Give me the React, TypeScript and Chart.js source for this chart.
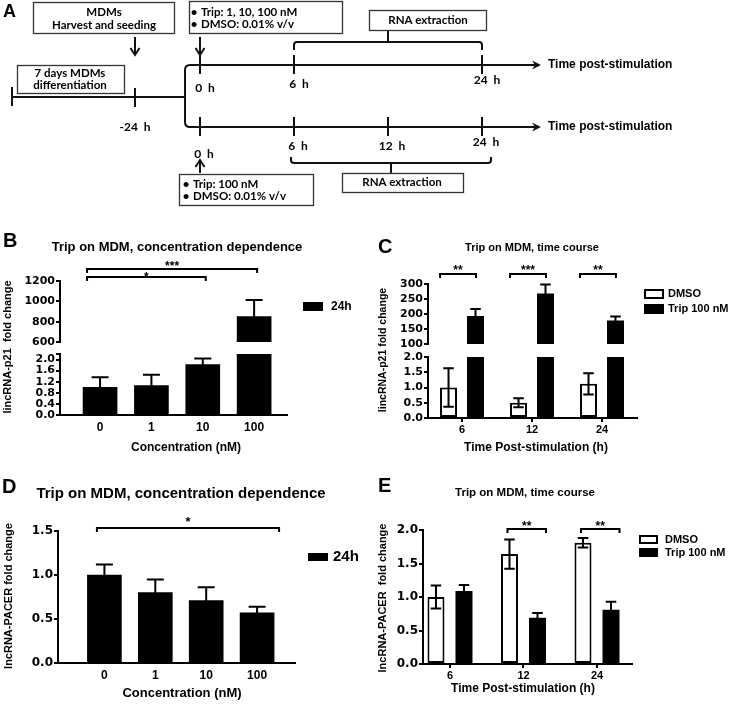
import React, { useEffect, useRef } from 'react';
import { Chart, registerables } from 'chart.js';

Chart.register(...registerables);

const ARIAL = '"Liberation Sans", Arial, Helvetica, sans-serif';
const WIDE = '"DejaVu Sans", "Liberation Sans", sans-serif';
const LATO = 'Lato, "Liberation Sans", sans-serif';

// ---------------- data ----------------
const CONC_LABELS = ['0', '1', '10', '100'];
const TIME_LABELS = ['6', '12', '24'];

// B: lincRNA-p21, concentration dependence (24 h)
const B_P21_24H = [1.0, 1.06, 1.82, 850];
const B_P21_24H_SEM = [0.36, 0.39, 0.22, 163];
const B_TICKS_HIGH = [600, 800, 1000, 1200];
const B_TICKS_LOW = [0, 0.4, 0.8, 1.2, 1.6, 2.0];

// C: lincRNA-p21, time course
const C_P21_DMSO = [1.0, 0.5, 1.12];
const C_P21_DMSO_SEM = [0.63, 0.15, 0.35];
const C_P21_TRIP = [193, 268, 178];
const C_P21_TRIP_SEM = [24, 30, 14];
const C_TICKS_HIGH = [100, 150, 200, 250, 300];
const C_TICKS_LOW = [0, 0.5, 1.0, 1.5, 2.0];

// D: lncRNA-PACER, concentration dependence (24 h)
const D_PACER_24H = [1.0, 0.8, 0.71, 0.57];
const D_PACER_24H_SEM = [0.12, 0.15, 0.15, 0.07];
const D_TICKS = [0, 0.5, 1.0, 1.5];

// E: lncRNA-PACER, time course
const E_PACER_DMSO = [1.0, 1.64, 1.81];
const E_PACER_DMSO_SEM = [0.17, 0.22, 0.07];
const E_PACER_TRIP = [1.09, 0.69, 0.81];
const E_PACER_TRIP_SEM = [0.09, 0.07, 0.12];
const E_TICKS = [0, 0.5, 1.0, 1.5, 2.0];

// significance brackets: [category, series]
const B_SIG = [
  { from: [0, 0], to: [3, 0], text: '***' },
  { from: [0, 0], to: [2, 0], text: '*' },
];
const C_SIG = [
  { from: [0, 0], to: [0, 1], text: '**' },
  { from: [1, 0], to: [1, 1], text: '***' },
  { from: [2, 0], to: [2, 1], text: '**' },
];
const D_SIG = [{ from: [0, 0], to: [3, 0], text: '*' }];
const E_SIG = [
  { from: [1, 0], to: [1, 1], text: '**' },
  { from: [2, 0], to: [2, 1], text: '**' },
];

// panel A schematic
const TIMEPOINTS_H = [0, 6, 12, 24];
const ARM1_H = [0, 6, 24];
const ARM2_H = [0, 6, 12, 24];
const ARM1_TREATMENT = ['Trip: 1, 10, 100 nM', 'DMSO: 0.01% v/v'];
const ARM2_TREATMENT = ['Trip: 100 nM', 'DMSO: 0.01% v/v'];
const HARVEST_SPAN = [6, 24];

// ---------------- helpers ----------------
function fontStr(size: number, family = ARIAL) {
  return `bold ${size}px ${family}`;
}

function drawText(ctx: any, str: string, x: number, y: number, size: number, opts: any = {}) {
  ctx.save();
  ctx.font = fontStr(size, opts.family || ARIAL);
  ctx.fillStyle = '#000';
  ctx.textAlign = opts.align || 'center';
  ctx.textBaseline = opts.baseline || 'middle';
  if (opts.rotate) {
    ctx.translate(x, y);
    ctx.rotate(-Math.PI / 2);
    ctx.fillText(str, 0, 0);
  } else {
    ctx.fillText(str, x, y);
  }
  ctx.restore();
}

const pick = (v: any, i: number) => (Array.isArray(v) ? v[i] : v);

// ---------------- panel specs ----------------
const PANELS: any[] = [
  {
    key: 'B',
    canvas: { left: 0, top: 215, width: 365, height: 245 },
    area: { left: 60, top: 281, right: 287, bottom: 415 },
    categories: CONC_LABELS,
    xMin: -0.78,
    xMax: 3.64,
    segments: [
      { id: 'yHigh', min: 600, max: 1200, ticks: B_TICKS_HIGH, weight: 61, decimals: 0 },
      { id: 'gap', gap: true, weight: 12 },
      { id: 'yLow', min: 0, max: 2.2, ticks: B_TICKS_LOW, weight: 61, decimals: 1, breakTick: true },
    ],
    series: [{ label: '24h', values: B_P21_24H, sem: B_P21_24H_SEM, fill: '#000', outline: false }],
    barThickness: 34,
    capRatio: 0.5,
    xTickMarks: false,
    yTickSize: 11,
    xTickSize: 12,
    letter: { text: 'B', x: 3, y: 247, size: 20 },
    title: { text: 'Trip on MDM, concentration dependence', x: 177, y: 247, size: 13 },
    yTitle: { text: 'lincRNA-p21  fold change', x: 8, y: 347, size: 11 },
    xTitle: { text: 'Concentration (nM)', x: 186, y: 448, size: 12 },
    legend: { x: 303, y: 302, boxW: 20, boxH: 9, gap: 15, textDx: 28, size: 12 },
    sig: B_SIG,
    sigY: [269, 277],
    sigTextY: [263, 274],
    sigDx: [-13, 3],
    sigSize: 12,
  },
  {
    key: 'C',
    canvas: { left: 365, top: 215, width: 364, height: 245 },
    area: { left: 428, top: 284, right: 637, bottom: 418 },
    categories: TIME_LABELS,
    xMin: -0.486,
    xMax: 2.5,
    segments: [
      { id: 'yHigh', min: 100, max: 300, ticks: C_TICKS_HIGH, weight: 60, decimals: 0 },
      { id: 'gap', gap: true, weight: 13 },
      { id: 'yLow', min: 0, max: 2, ticks: C_TICKS_LOW, weight: 61, decimals: 1 },
    ],
    series: [
      { label: 'DMSO', values: C_P21_DMSO, sem: C_P21_DMSO_SEM, fill: '#fff', outline: true },
      { label: 'Trip 100 nM', values: C_P21_TRIP, sem: C_P21_TRIP_SEM, fill: '#000', outline: false },
    ],
    categoryPercentage: 0.771,
    barPercentage: 0.63,
    capRatio: 0.62,
    xTickMarks: true,
    yTickSize: 11,
    xTickSize: 11,
    letter: { text: 'C', x: 378, y: 253, size: 20 },
    title: { text: 'Trip on MDM, time course', x: 532, y: 248, size: 11 },
    yTitle: { text: 'lincRNA-p21 fold change', x: 383, y: 350, size: 10.5 },
    xTitle: { text: 'Time Post-stimulation (h)', x: 536, y: 448, size: 12 },
    legend: { x: 644, y: 289, boxW: 20, boxH: 10, gap: 15, textDx: 24, size: 11 },
    sig: C_SIG,
    sigY: 274,
    sigTextY: 267,
    sigDx: [-8.5, 0.5],
    sigSize: 12,
  },
  {
    key: 'D',
    canvas: { left: 0, top: 460, width: 365, height: 244 },
    area: { left: 58, top: 531, right: 295, bottom: 663 },
    categories: CONC_LABELS,
    xMin: -0.912,
    xMax: 3.745,
    segments: [{ id: 'y', min: 0, max: 1.5, ticks: D_TICKS, weight: 1, decimals: 1 }],
    series: [{ label: '24h', values: D_PACER_24H, sem: D_PACER_24H_SEM, fill: '#000', outline: false }],
    barThickness: 34,
    capRatio: 0.5,
    xTickMarks: false,
    yTickSize: 12,
    xTickSize: 12,
    letter: { text: 'D', x: 2, y: 493, size: 20 },
    title: { text: 'Trip on MDM, concentration dependence', x: 181, y: 494, size: 15 },
    yTitle: { text: 'lncRNA-PACER fold change', x: 9, y: 596, size: 11 },
    xTitle: { text: 'Concentration (nM)', x: 182, y: 693, size: 13 },
    legend: { x: 308, y: 553, boxW: 20, boxH: 8, gap: 15, textDx: 25, size: 15 },
    sig: D_SIG,
    sigY: 528,
    sigTextY: 519,
    sigDx: [-7.5, 22],
    sigSize: 13,
  },
  {
    key: 'E',
    canvas: { left: 365, top: 460, width: 364, height: 244 },
    area: { left: 423, top: 530, right: 632, bottom: 664 },
    categories: TIME_LABELS,
    xMin: -0.367,
    xMax: 2.476,
    segments: [{ id: 'y', min: 0, max: 2, ticks: E_TICKS, weight: 1, decimals: 1 }],
    series: [
      { label: 'DMSO', values: E_PACER_DMSO, sem: E_PACER_DMSO_SEM, fill: '#fff', outline: true },
      { label: 'Trip 100 nM', values: E_PACER_TRIP, sem: E_PACER_TRIP_SEM, fill: '#000', outline: false },
    ],
    categoryPercentage: 0.762,
    barPercentage: 0.607,
    capRatio: 0.62,
    xTickMarks: true,
    yTickSize: 12,
    xTickSize: 11,
    letter: { text: 'E', x: 378, y: 492, size: 20 },
    title: { text: 'Trip on MDM, time course', x: 525, y: 493, size: 11.5 },
    yTitle: { text: 'lncRNA-PACER  fold change', x: 383, y: 598, size: 11 },
    xTitle: { text: 'Time Post-stimulation (h)', x: 523, y: 689, size: 12 },
    legend: { x: 639, y: 535, boxW: 19, boxH: 9, gap: 13, textDx: 26, size: 11 },
    sig: E_SIG,
    sigY: 529,
    sigTextY: 523,
    sigDx: [-2, 8.5],
    sigSize: 12,
  },
];

const Y_W = 40;
const X_H = 24;

function panelPlugin(spec: any) {
  const cv = spec.canvas;
  const nSegs = spec.segments.filter((s: any) => !s.gap).length;
  return {
    id: 'panel' + spec.key,
    beforeDatasetDraw(chart: any, args: any) {
      const ys = chart.scales[args.meta.yAxisID];
      const a = chart.chartArea;
      const ctx = chart.ctx;
      ctx.save();
      ctx.beginPath();
      ctx.rect(a.left, ys.top, a.right - a.left, ys.bottom - ys.top);
      ctx.clip();
    },
    afterDatasetDraw(chart: any, args: any) {
      const ctx = chart.ctx;
      ctx.restore();
      const ds = chart.data.datasets[args.index];
      const ys = chart.scales[args.meta.yAxisID];
      const a = chart.chartArea;
      ctx.save();
      ctx.beginPath();
      ctx.rect(a.left, ys.top - 3, a.right - a.left, ys.bottom - ys.top + 6);
      ctx.clip();
      ctx.strokeStyle = '#000';
      ctx.lineWidth = 2;
      args.meta.data.forEach((bar: any, i: number) => {
        const m = ds.means[i];
        const e = ds.sem[i];
        const half = (bar.width * spec.capRatio) / 2;
        const yT = ys.getPixelForValue(m + e);
        const yB = ys.getPixelForValue(m - e);
        ctx.beginPath();
        ctx.moveTo(bar.x, yT);
        ctx.lineTo(bar.x, yB);
        ctx.moveTo(bar.x - half, yT);
        ctx.lineTo(bar.x + half, yT);
        ctx.moveTo(bar.x - half, yB);
        ctx.lineTo(bar.x + half, yB);
        ctx.stroke();
      });
      ctx.restore();
    },
    afterDraw(chart: any) {
      const ctx = chart.ctx;
      ctx.save();
      ctx.translate(-cv.left, -cv.top);
      const L = spec.letter;
      drawText(ctx, L.text, L.x, L.y, L.size, { align: 'left', baseline: 'alphabetic' });
      const T = spec.title;
      drawText(ctx, T.text, T.x, T.y, T.size);
      const YT = spec.yTitle;
      drawText(ctx, YT.text, YT.x, YT.y, YT.size, { rotate: true });
      const XT = spec.xTitle;
      drawText(ctx, XT.text, XT.x, XT.y, XT.size);

      // legend
      const G = spec.legend;
      spec.series.forEach((ser: any, i: number) => {
        const by = G.y + i * G.gap;
        ctx.fillStyle = ser.fill;
        ctx.fillRect(G.x, by, G.boxW, G.boxH);
        if (ser.outline) {
          ctx.strokeStyle = '#000';
          ctx.lineWidth = 2;
          ctx.strokeRect(G.x + 1, by + 1, G.boxW - 2, G.boxH - 2);
        }
        drawText(ctx, ser.label, G.x + G.textDx, by + G.boxH / 2, G.size, { align: 'left' });
      });

      // significance brackets
      const xOf = (ref: number[]) => {
        const meta = chart.getDatasetMeta(ref[1] * nSegs);
        return meta.data[ref[0]].x + cv.left;
      };
      ctx.strokeStyle = '#000';
      ctx.lineWidth = 2;
      spec.sig.forEach((s: any, i: number) => {
        const x1 = xOf(s.from) + spec.sigDx[0];
        const x2 = xOf(s.to) + spec.sigDx[1];
        const y = pick(spec.sigY, i);
        ctx.beginPath();
        ctx.moveTo(x1, y + 4);
        ctx.lineTo(x1, y);
        ctx.lineTo(x2, y);
        ctx.lineTo(x2, y + 4);
        ctx.stroke();
        ctx.font = fontStr(spec.sigSize);
        const m = ctx.measureText(s.text);
        const ty = pick(spec.sigTextY, i);
        const base = ty + (m.actualBoundingBoxAscent - m.actualBoundingBoxDescent) / 2;
        ctx.fillStyle = '#000';
        ctx.textAlign = 'center';
        ctx.textBaseline = 'alphabetic';
        ctx.fillText(s.text, (x1 + x2) / 2, base);
      });
      ctx.restore();
    },
  };
}

function buildPanelConfig(spec: any): any {
  const cv = spec.canvas;
  const ar = spec.area;
  const padding = {
    left: ar.left - cv.left - Y_W,
    top: ar.top - cv.top,
    right: cv.left + cv.width - ar.right,
    bottom: cv.top + cv.height - ar.bottom - X_H,
  };
  const scales: any = {
    x: {
      type: 'linear',
      min: spec.xMin,
      max: spec.xMax,
      offset: false,
      afterBuildTicks: (s: any) => {
        s.ticks = spec.categories.map((_: string, i: number) => ({ value: i }));
      },
      afterFit: (s: any) => {
        s.height = X_H;
      },
      ticks: {
        callback: (v: number) => spec.categories[v] ?? '',
        autoSkip: false,
        maxRotation: 0,
        minRotation: 0,
        padding: 1,
        color: '#000',
        font: { family: ARIAL, size: spec.xTickSize, weight: 'bold' },
      },
      grid: {
        display: true,
        offset: false,
        drawOnChartArea: false,
        drawTicks: true,
        tickLength: 4,
        lineWidth: 2,
        color: spec.xTickMarks ? '#000' : 'rgba(0,0,0,0)',
      },
      border: { display: true, color: '#000', width: 2 },
    },
  };
  // stacked axes: Chart.js places later-defined left boxes on top, so define bottom-most first
  const segsBottomUp = [...spec.segments].reverse();
  for (const seg of segsBottomUp) {
    const base: any = {
      type: 'linear',
      position: 'left',
      stack: 'ystack',
      stackWeight: seg.weight,
      afterFit: (s: any) => {
        s.width = Y_W;
      },
    };
    if (seg.gap) {
      scales[seg.id] = {
        ...base,
        min: 0,
        max: 1,
        ticks: { display: false },
        grid: { display: false, drawTicks: false },
        border: { display: false },
      };
    } else {
      const tickVals = seg.breakTick ? [...seg.ticks, seg.max] : seg.ticks;
      scales[seg.id] = {
        ...base,
        min: seg.min,
        max: seg.max,
        afterBuildTicks: (s: any) => {
          s.ticks = tickVals.map((v: number) => ({ value: v }));
        },
        ticks: {
          callback: (v: number) => (seg.breakTick && v === seg.max ? '' : Number(v).toFixed(seg.decimals)),
          autoSkip: false,
          padding: 1,
          color: '#000',
          font: { family: WIDE, size: spec.yTickSize, weight: 'bold' },
        },
        grid: { drawOnChartArea: false, drawTicks: true, tickLength: 4, lineWidth: 2, color: '#000' },
        border: { display: true, color: '#000', width: 2 },
      };
    }
  }
  const valueSegs = spec.segments.filter((s: any) => !s.gap);
  const datasets: any[] = [];
  spec.series.forEach((ser: any, si: number) => {
    valueSegs.forEach((seg: any) => {
      datasets.push({
        type: 'bar',
        label: ser.label,
        data: ser.values.map((y: number, i: number) => ({ x: i, y })),
        yAxisID: seg.id,
        stack: 'series' + si,
        backgroundColor: ser.fill,
        borderColor: '#000',
        borderWidth: ser.outline ? 2 : 0,
        borderSkipped: false,
        barThickness: spec.barThickness,
        categoryPercentage: spec.categoryPercentage ?? 0.8,
        barPercentage: spec.barPercentage ?? 0.9,
        means: ser.values,
        sem: ser.sem,
      });
    });
  });
  return {
    type: 'bar',
    data: { datasets },
    options: {
      responsive: false,
      animation: false,
      devicePixelRatio: 1,
      events: [],
      layout: { padding },
      scales,
      plugins: { legend: { display: false }, tooltip: { enabled: false }, title: { display: false } },
    },
    plugins: [panelPlugin(spec)],
  };
}

function PanelChart({ spec }: { spec: any }) {
  const ref = useRef<HTMLCanvasElement>(null);
  useEffect(() => {
    const chart = new Chart(ref.current as HTMLCanvasElement, buildPanelConfig(spec));
    return () => chart.destroy();
  }, [spec]);
  const c = spec.canvas;
  return (
    <canvas
      ref={ref}
      width={c.width}
      height={c.height}
      style={{ position: 'absolute', left: c.left, top: c.top, width: c.width, height: c.height }}
    />
  );
}

// ---------------- panel A (schematic) ----------------
const A_LAYOUT = {
  t0: 200,
  step: 94,
  arm1LabelY: [88, 84, 80],
  arm2LabelY: [154, 146, 146, 142],
};

function drawSchematic(chart: any) {
  const ctx = chart.ctx;
  const xs = chart.scales.x;
  const ys = chart.scales.y;
  const X = (v: number) => xs.getPixelForValue(v);
  const Y = (v: number) => ys.getPixelForValue(v);
  const tpx = (h: number) => X(A_LAYOUT.t0 + TIMEPOINTS_H.indexOf(h) * A_LAYOUT.step);
  const ink = '#111';
  ctx.save();
  ctx.strokeStyle = ink;
  ctx.fillStyle = ink;
  ctx.lineWidth = 2;
  const line = (x1: number, y1: number, x2: number, y2: number) => {
    ctx.beginPath();
    ctx.moveTo(x1, y1);
    ctx.lineTo(x2, y2);
    ctx.stroke();
  };
  const box = (x1: number, y1: number, x2: number, y2: number) => {
    ctx.save();
    ctx.lineWidth = 1.3;
    ctx.strokeStyle = '#333';
    ctx.strokeRect(X(x1) + 0.5, Y(y1) + 0.5, X(x2) - X(x1), Y(y2) - Y(y1));
    ctx.restore();
  };
  const arrowDown = (x: number, y1: number, y2: number) => {
    line(x, y1, x, y2);
    ctx.beginPath();
    ctx.moveTo(x - 4.5, y2 - 7);
    ctx.lineTo(x, y2);
    ctx.lineTo(x + 4.5, y2 - 7);
    ctx.stroke();
  };
  const arrowUp = (x: number, yTip: number, y2: number) => {
    line(x, yTip, x, y2);
    ctx.beginPath();
    ctx.moveTo(x - 4.5, yTip + 7);
    ctx.lineTo(x, yTip);
    ctx.lineTo(x + 4.5, yTip + 7);
    ctx.stroke();
  };

  const yMain = Y(97);
  const yTop = Y(65);
  const yBot = Y(127);
  const xStart = X(12);
  const xPre = X(135);
  const xFork = X(185);
  const xEnd = X(541);

  // differentiation line
  line(xStart, yMain, xFork, yMain);
  line(xStart, Y(87), xStart, Y(106));
  line(xPre, Y(88), xPre, Y(107));
  drawText(ctx, '-24  h', xPre, Y(127), 12, { family: LATO });

  // fork into two arms
  ctx.beginPath();
  ctx.moveTo(xEnd - 6, yTop);
  ctx.lineTo(xFork + 5, yTop);
  ctx.quadraticCurveTo(xFork, yTop, xFork, yTop + 5);
  ctx.lineTo(xFork, yBot - 5);
  ctx.quadraticCurveTo(xFork, yBot, xFork + 5, yBot);
  ctx.lineTo(xEnd - 6, yBot);
  ctx.stroke();
  for (const yy of [yTop, yBot]) {
    ctx.beginPath();
    ctx.moveTo(xEnd, yy);
    ctx.lineTo(xEnd - 9, yy - 4.5);
    ctx.lineTo(xEnd - 6, yy);
    ctx.lineTo(xEnd - 9, yy + 4.5);
    ctx.closePath();
    ctx.fill();
    drawText(ctx, 'Time post-stimulation', xEnd + 7, yy, 12, { align: 'left' });
  }

  // arm ticks and labels
  ARM1_H.forEach((h, i) => {
    const x = tpx(h);
    line(x, Y(55), x, Y(74));
    drawText(ctx, `${h}  h`, x + 5, Y(A_LAYOUT.arm1LabelY[i]), 12, { family: LATO });
  });
  ARM2_H.forEach((h, i) => {
    const x = tpx(h);
    line(x, Y(117), x, Y(136));
    drawText(ctx, `${h}  h`, x + 4, Y(A_LAYOUT.arm2LabelY[i]), 12, { family: LATO });
  });

  // harvest brackets
  const hx1 = tpx(HARVEST_SPAN[0]);
  const hx2 = tpx(HARVEST_SPAN[1]);
  ctx.beginPath();
  ctx.moveTo(hx1, Y(50));
  ctx.lineTo(hx1, Y(45));
  ctx.quadraticCurveTo(hx1, Y(42), hx1 + 3, Y(42));
  ctx.lineTo(hx2 - 3, Y(42));
  ctx.quadraticCurveTo(hx2, Y(42), hx2, Y(45));
  ctx.lineTo(hx2, Y(50));
  ctx.stroke();
  line((hx1 + hx2) / 2, Y(42), (hx1 + hx2) / 2, Y(30));

  const bx1 = hx1 - 3;
  const bx2 = hx2 + 9;
  ctx.beginPath();
  ctx.moveTo(bx1, Y(157));
  ctx.lineTo(bx1, Y(160));
  ctx.quadraticCurveTo(bx1, Y(163), bx1 + 3, Y(163));
  ctx.lineTo(bx2 - 3, Y(163));
  ctx.quadraticCurveTo(bx2, Y(163), bx2, Y(160));
  ctx.lineTo(bx2, Y(157));
  ctx.stroke();
  line((bx1 + bx2) / 2, Y(163), (bx1 + bx2) / 2, Y(173));

  // arrows
  arrowDown(xPre, Y(37), Y(55));
  arrowDown(tpx(0), Y(37), Y(55));
  arrowUp(tpx(0), Y(160), Y(173));

  // boxes
  const BF = 11.5;
  box(33, 2, 174, 33);
  drawText(ctx, 'MDMs', X(104), Y(12), BF, { family: LATO });
  drawText(ctx, 'Harvest and seeding', X(104), Y(25), BF, { family: LATO });

  box(189, 1, 342, 33);
  ARM1_TREATMENT.forEach((t, i) => {
    drawText(ctx, '•', X(194), Y(12 + i * 12), BF, { family: LATO });
    drawText(ctx, t, X(201), Y(12 + i * 12), BF, { family: LATO, align: 'left' });
  });

  box(17, 65, 124, 93);
  drawText(ctx, '7 days MDMs', X(70), Y(73), BF, { family: LATO });
  drawText(ctx, 'differentiation', X(70), Y(85), BF, { family: LATO });

  box(369, 10, 486, 30);
  drawText(ctx, 'RNA extraction', X(428), Y(20), BF, { family: LATO });

  box(342, 173, 463, 192);
  drawText(ctx, 'RNA extraction', X(402), Y(182.5), BF, { family: LATO });

  box(179, 174, 313, 205);
  ARM2_TREATMENT.forEach((t, i) => {
    drawText(ctx, '•', X(186), Y(184 + i * 12), BF, { family: LATO });
    drawText(ctx, t, X(193), Y(184 + i * 12), BF, { family: LATO, align: 'left' });
  });

  drawText(ctx, 'A', X(3), Y(17), 18, { align: 'left', baseline: 'alphabetic' });
  ctx.restore();
}

function SchematicChart() {
  const ref = useRef<HTMLCanvasElement>(null);
  useEffect(() => {
    const chart = new Chart(ref.current as HTMLCanvasElement, {
      type: 'scatter',
      data: { datasets: [] },
      options: {
        responsive: false,
        animation: false,
        devicePixelRatio: 1,
        events: [],
        layout: { padding: 0 },
        scales: {
          x: { type: 'linear', display: false, min: 0, max: 729 },
          y: { type: 'linear', display: false, min: 0, max: 215, reverse: true },
        },
        plugins: { legend: { display: false }, tooltip: { enabled: false } },
      },
      plugins: [{ id: 'schematic', afterDraw: drawSchematic }],
    } as any);
    return () => chart.destroy();
  }, []);
  return (
    <canvas
      ref={ref}
      width={729}
      height={215}
      style={{ position: 'absolute', left: 0, top: 0, width: 729, height: 215 }}
    />
  );
}

export default function App() {
  useEffect(() => {
    document.body.style.margin = '0';
  }, []);
  return (
    <div
      style={{
        position: 'absolute',
        left: 0,
        top: 0,
        width: 729,
        height: 704,
        background: '#fff',
        overflow: 'hidden',
      }}
    >
      <SchematicChart />
      {PANELS.map((p) => (
        <PanelChart key={p.key} spec={p} />
      ))}
    </div>
  );
}
